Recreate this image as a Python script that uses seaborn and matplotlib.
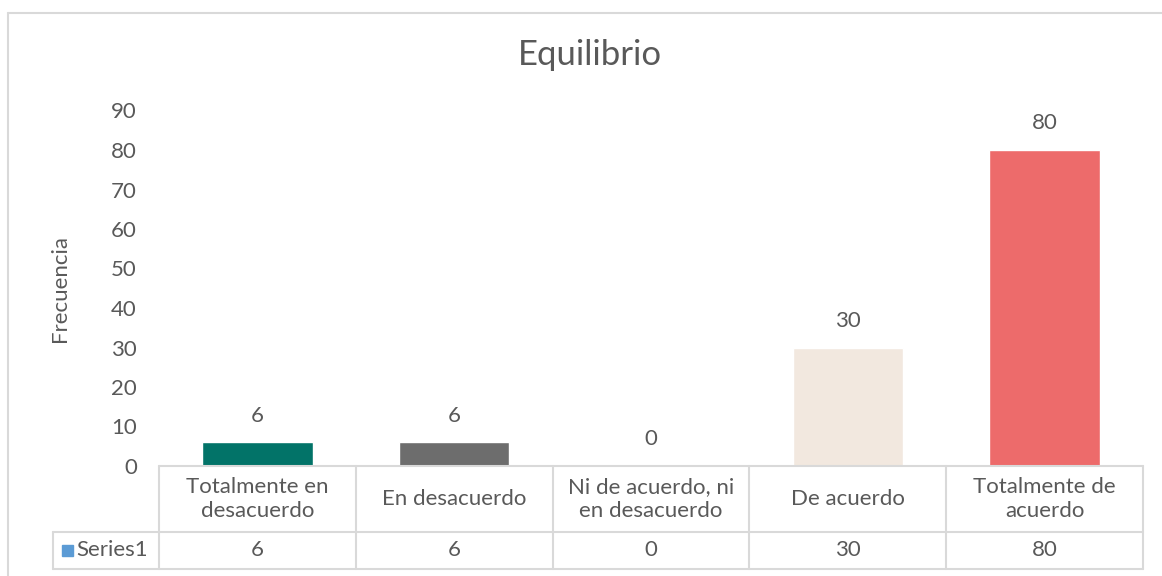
import matplotlib
matplotlib.use("Agg")
import matplotlib.pyplot as plt
import seaborn as sns
from matplotlib.transforms import blended_transform_factory
from matplotlib.lines import Line2D
from matplotlib.patches import Rectangle

# ---- data ----
categories = ["Totalmente en desacuerdo", "En desacuerdo",
              "Ni de acuerdo, ni en desacuerdo", "De acuerdo",
              "Totalmente de acuerdo"]
table_labels = ["Totalmente en\ndesacuerdo", "En desacuerdo",
                "Ni de acuerdo, ni\nen desacuerdo", "De acuerdo",
                "Totalmente de\nacuerdo"]
values = [6, 6, 0, 30, 80]
series_name = "Series1"
title = "Equilibrio"
ylabel = "Frecuencia"
yticks = [0, 10, 20, 30, 40, 50, 60, 70, 80, 90]
bar_colors = ["#027368", "#6d6d6d", "#a5a5a5", "#f2e8df", "#ed6b6b"]

TXT = "#595959"
GRID = "#d9d9d9"
W, H = 1162, 576
FS = 16

sns.set_theme(style="white")
plt.rcParams["font.family"] = ["Lato", "DejaVu Sans"]

fig = plt.figure(figsize=(W / 100, H / 100), dpi=100)
fig.patch.set_facecolor("white")

def fx(px):
    return px / W

def fy(py):
    return 1 - py / H

ax_left, ax_right = 159, 1143
ax_bottom, ax_top = 466, 110.5
ax = fig.add_axes([fx(ax_left), fy(ax_bottom), fx(ax_right - ax_left), (ax_bottom - ax_top) / H])

sns.barplot(x=categories, y=values, hue=categories, palette=bar_colors,
            legend=False, width=0.56, ax=ax, saturation=1)
ax.set_xlim(-0.5, len(categories) - 0.5)
ax.set_ylim(0, 90)
ax.set_yticks(yticks)
ax.set_yticklabels([str(t) for t in yticks], fontsize=FS, color=TXT)
ax.tick_params(axis="y", length=0, pad=16)
ax.set_xticks([])
ax.set_xlabel("")
ax.set_ylabel("")
for s in ax.spines.values():
    s.set_visible(False)
ax.grid(False)

for cont in ax.containers:
    ax.bar_label(cont, fmt="%g", padding=12, fontsize=FS, color=TXT)

# title and y label
fig.text(fx(590), fy(55), title, fontsize=25, color=TXT, ha="center", va="center")
fig.text(fx(60), fy(288), ylabel, fontsize=FS, color=TXT, ha="center", va="center",
         rotation=90)

# ---- data table ----
trans = blended_transform_factory(ax.transData, fig.transFigure)
row_top, row_mid, row_bot = 466, 532, 569
tbl_left = 53
lw = 1.5
fig.add_artist(Line2D([fx(ax_left), fx(ax_right)], [fy(row_top)] * 2, color=GRID, lw=lw))
fig.add_artist(Line2D([fx(tbl_left), fx(ax_right)], [fy(row_mid)] * 2, color=GRID, lw=lw))
fig.add_artist(Line2D([fx(tbl_left), fx(ax_right)], [fy(row_bot)] * 2, color=GRID, lw=lw))
fig.add_artist(Line2D([fx(tbl_left)] * 2, [fy(row_mid), fy(row_bot)], color=GRID, lw=lw))
for i in range(len(categories) + 1):
    xb = i - 0.5
    fig.add_artist(Line2D([xb, xb], [fy(row_top), fy(row_bot)], color=GRID, lw=lw,
                          transform=trans))
for i, (lab, v) in enumerate(zip(table_labels, values)):
    fig.text(i, fy((row_top + row_mid) / 2), lab, transform=trans, ha="center",
             va="center", fontsize=FS, color=TXT, linespacing=1.3)
    fig.text(i, fy((row_mid + row_bot) / 2), f"{v:g}", transform=trans, ha="center",
             va="center", fontsize=FS, color=TXT)
fig.add_artist(Rectangle((fx(62), fy(556)), fx(11), 11 / H, color="#5b9bd5",
                         transform=fig.transFigure))
fig.text(fx(76), fy((row_mid + row_bot) / 2), series_name, ha="left", va="center",
         fontsize=FS, color=TXT)

# chart border (left and top visible)
fig.add_artist(Line2D([fx(8), fx(8)], [fy(13), fy(580)], color=GRID, lw=1.5))
fig.add_artist(Line2D([fx(8), fx(1170)], [fy(13), fy(13)], color=GRID, lw=1.5))

fig.savefig("out.png", dpi=100, facecolor="white")
